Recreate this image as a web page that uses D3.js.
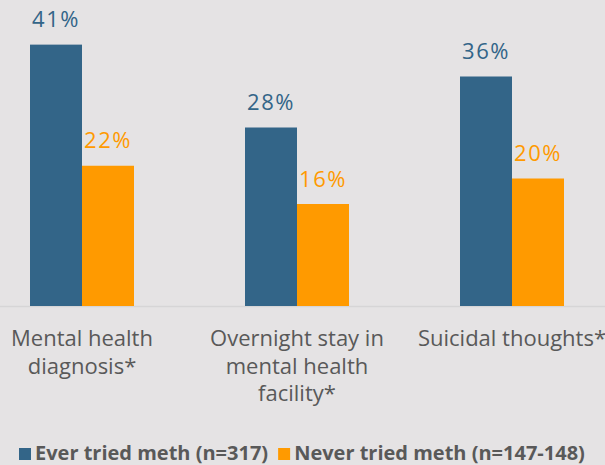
<!DOCTYPE html>
<html>
<head>
<meta charset="utf-8">
<script src="https://cdn.jsdelivr.net/npm/d3@7.9.0/dist/d3.min.js"></script>
<style>
  html, body { margin: 0; padding: 0; background: #e5e3e4; }
  svg { display: block; font-family: "Open Sans", sans-serif; }
</style>
</head>
<body>
<svg width="605" height="465"></svg>
<script>
const categories = [
  ['Mental health', 'diagnosis*'],
  ['Overnight stay in', 'mental health', 'facility*'],
  ['Suicidal thoughts*']
];
const seriesNames = ['Ever tried meth (n=317)', 'Never tried meth (n=147-148)'];
const everTried = [41, 28, 36];
const neverTried = [22, 16, 20];
const colors = ['#336588', '#ff9a00'];

const svg = d3.select('svg');
const baseY = 306;

let x0 = d3.scaleBand()
  .domain(d3.range(categories.length))
  .range([-25.5, 619.5]);
let x1 = d3.scaleBand().domain([0, 1]).range([-52, 52]);
let y = d3.scaleLinear().domain([0, 48]).range([baseY, 0]);

const series = [everTried, neverTried];

// baseline
svg.append('line')
  .attr('x1', 0).attr('x2', 605)
  .attr('y1', baseY + 0.5).attr('y2', baseY + 0.5)
  .attr('stroke', '#d6d5d6').attr('stroke-width', 1.5);

series.forEach((vals, s) => {
  vals.forEach((v, i) => {
    let cx = x0(i) + x0.bandwidth() / 2;
    svg.append('rect')
      .attr('x', cx + x1(s))
      .attr('y', y(v))
      .attr('width', x1.bandwidth())
      .attr('height', baseY - y(v))
      .attr('fill', colors[s]);
    svg.append('text')
      .attr('x', cx + x1(s) + x1.bandwidth() / 2)
      .attr('y', y(v) - 17.5)
      .attr('text-anchor', 'middle')
      .attr('font-size', 22)
      .attr('letter-spacing', 1.5)
      .attr('fill', colors[s])
      .text(v + '%');
  });
});

// category labels, one text per line
categories.forEach((lines, i) => {
  lines.forEach((ln, j) => {
    svg.append('text')
      .attr('text-anchor', 'middle')
      .attr('font-size', 22)
      .attr('fill', '#595959')
      .attr('x', x0(i) + x0.bandwidth() / 2)
      .attr('y', 346 + j * 27.5)
      .text(ln);
  });
});

// legend
const legend = svg.append('g').attr('transform', 'translate(19,460)');
let lx = 0;
seriesNames.forEach((name, s) => {
  legend.append('rect')
    .attr('x', lx).attr('y', -12)
    .attr('width', 12).attr('height', 12)
    .attr('fill', colors[s]);
  let t = legend.append('text')
    .attr('x', lx + 16)
    .attr('font-size', 20)
    .attr('font-weight', 'bold')
    .attr('fill', '#595959')
    .text(name);
  lx += 16 + t.node().getComputedTextLength() + 10;
});
</script>
</body>
</html>
